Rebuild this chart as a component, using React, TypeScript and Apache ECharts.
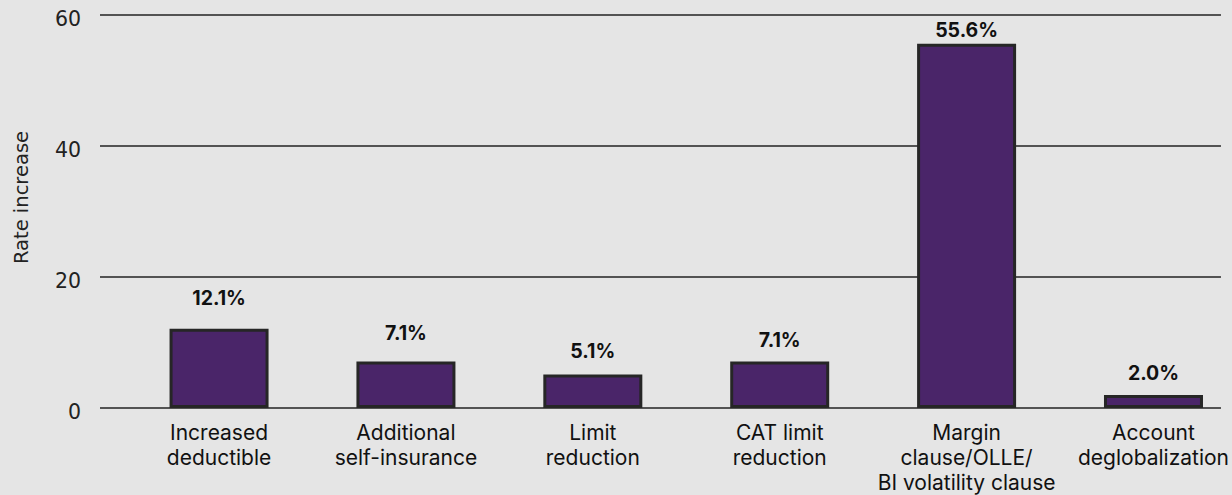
import React, { useEffect, useRef } from "react";
import * as echarts from "echarts";

const categories = [
  "Increased\ndeductible",
  "Additional\nself-insurance",
  "Limit\nreduction",
  "CAT limit\nreduction",
  "Margin\nclause/OLLE/\nBI volatility clause",
  "Account\ndeglobalization",
];
const values = [12.1, 7.1, 5.1, 7.1, 55.6, 2.0];
const yTicks = [0, 20, 40, 60];
const yTitle = "Rate increase";
// label distance above each bar (styling)
const labelGaps = [21, 18, 14, 11, 4, 12];

export default function App() {
  const ref = useRef<HTMLDivElement>(null);
  useEffect(() => {
    document.body.style.margin = "0";
    document.body.style.background = "#e5e5e5";
    const chart = echarts.init(ref.current!, null, { renderer: "svg" });
    chart.setOption({
      animation: false,
      backgroundColor: "#e5e5e5",
      grid: { left: 100, right: 11, top: 15, bottom: 84 },
      xAxis: {
        type: "value",
        min: -0.637,
        max: 5.361,
        axisLine: { show: false },
        axisTick: { show: false },
        splitLine: { show: false },
        axisLabel: {
          customValues: categories.map((_, i) => i),
          formatter: (v: number) => categories[Math.round(v)] ?? "",
          color: "#111",
          fontFamily: "Inter",
          fontSize: 21,
          lineHeight: 25,
          margin: 12,
          hideOverlap: false,
        },
      },
      yAxis: {
        type: "value",
        min: yTicks[0],
        max: yTicks[yTicks.length - 1],
        interval: 20,
        name: yTitle,
        nameLocation: "middle",
        nameRotate: 90,
        nameGap: 69,
        nameTextStyle: {
          fontFamily: "DejaVu Sans",
          fontSize: 19.5,
          color: "#222",
          padding: [0, 0, 0, 28],
        },
        axisLine: { show: false },
        axisTick: { show: false },
        axisLabel: {
          fontFamily: "DejaVu Sans",
          fontSize: 20.5,
          color: "#222",
          margin: 19,
          verticalAlign: "top",
          padding: [-7, 0, 0, 0],
        },
        splitLine: { lineStyle: { color: "#222", width: 1.5 } },
      },
      series: [
        {
          type: "bar",
          barWidth: 99,
          data: values.map((v, i) => ({
            value: [i, v],
            label: { distance: labelGaps[i] },
          })),
          itemStyle: {
            color: "#4a2569",
            borderColor: "#262626",
            borderWidth: 3,
          },
          label: {
            show: true,
            position: "top",
            formatter: (p: any) => p.value[1].toFixed(1) + "%",
            fontFamily: "Inter",
            fontWeight: "bold",
            fontSize: 19.5,
            color: "#111",
          },
        },
      ],
    });
    return () => chart.dispose();
  }, []);
  return (
    <div
      ref={ref}
      style={{ position: "fixed", left: 0, top: 0, width: 1232, height: 495 }}
    />
  );
}
